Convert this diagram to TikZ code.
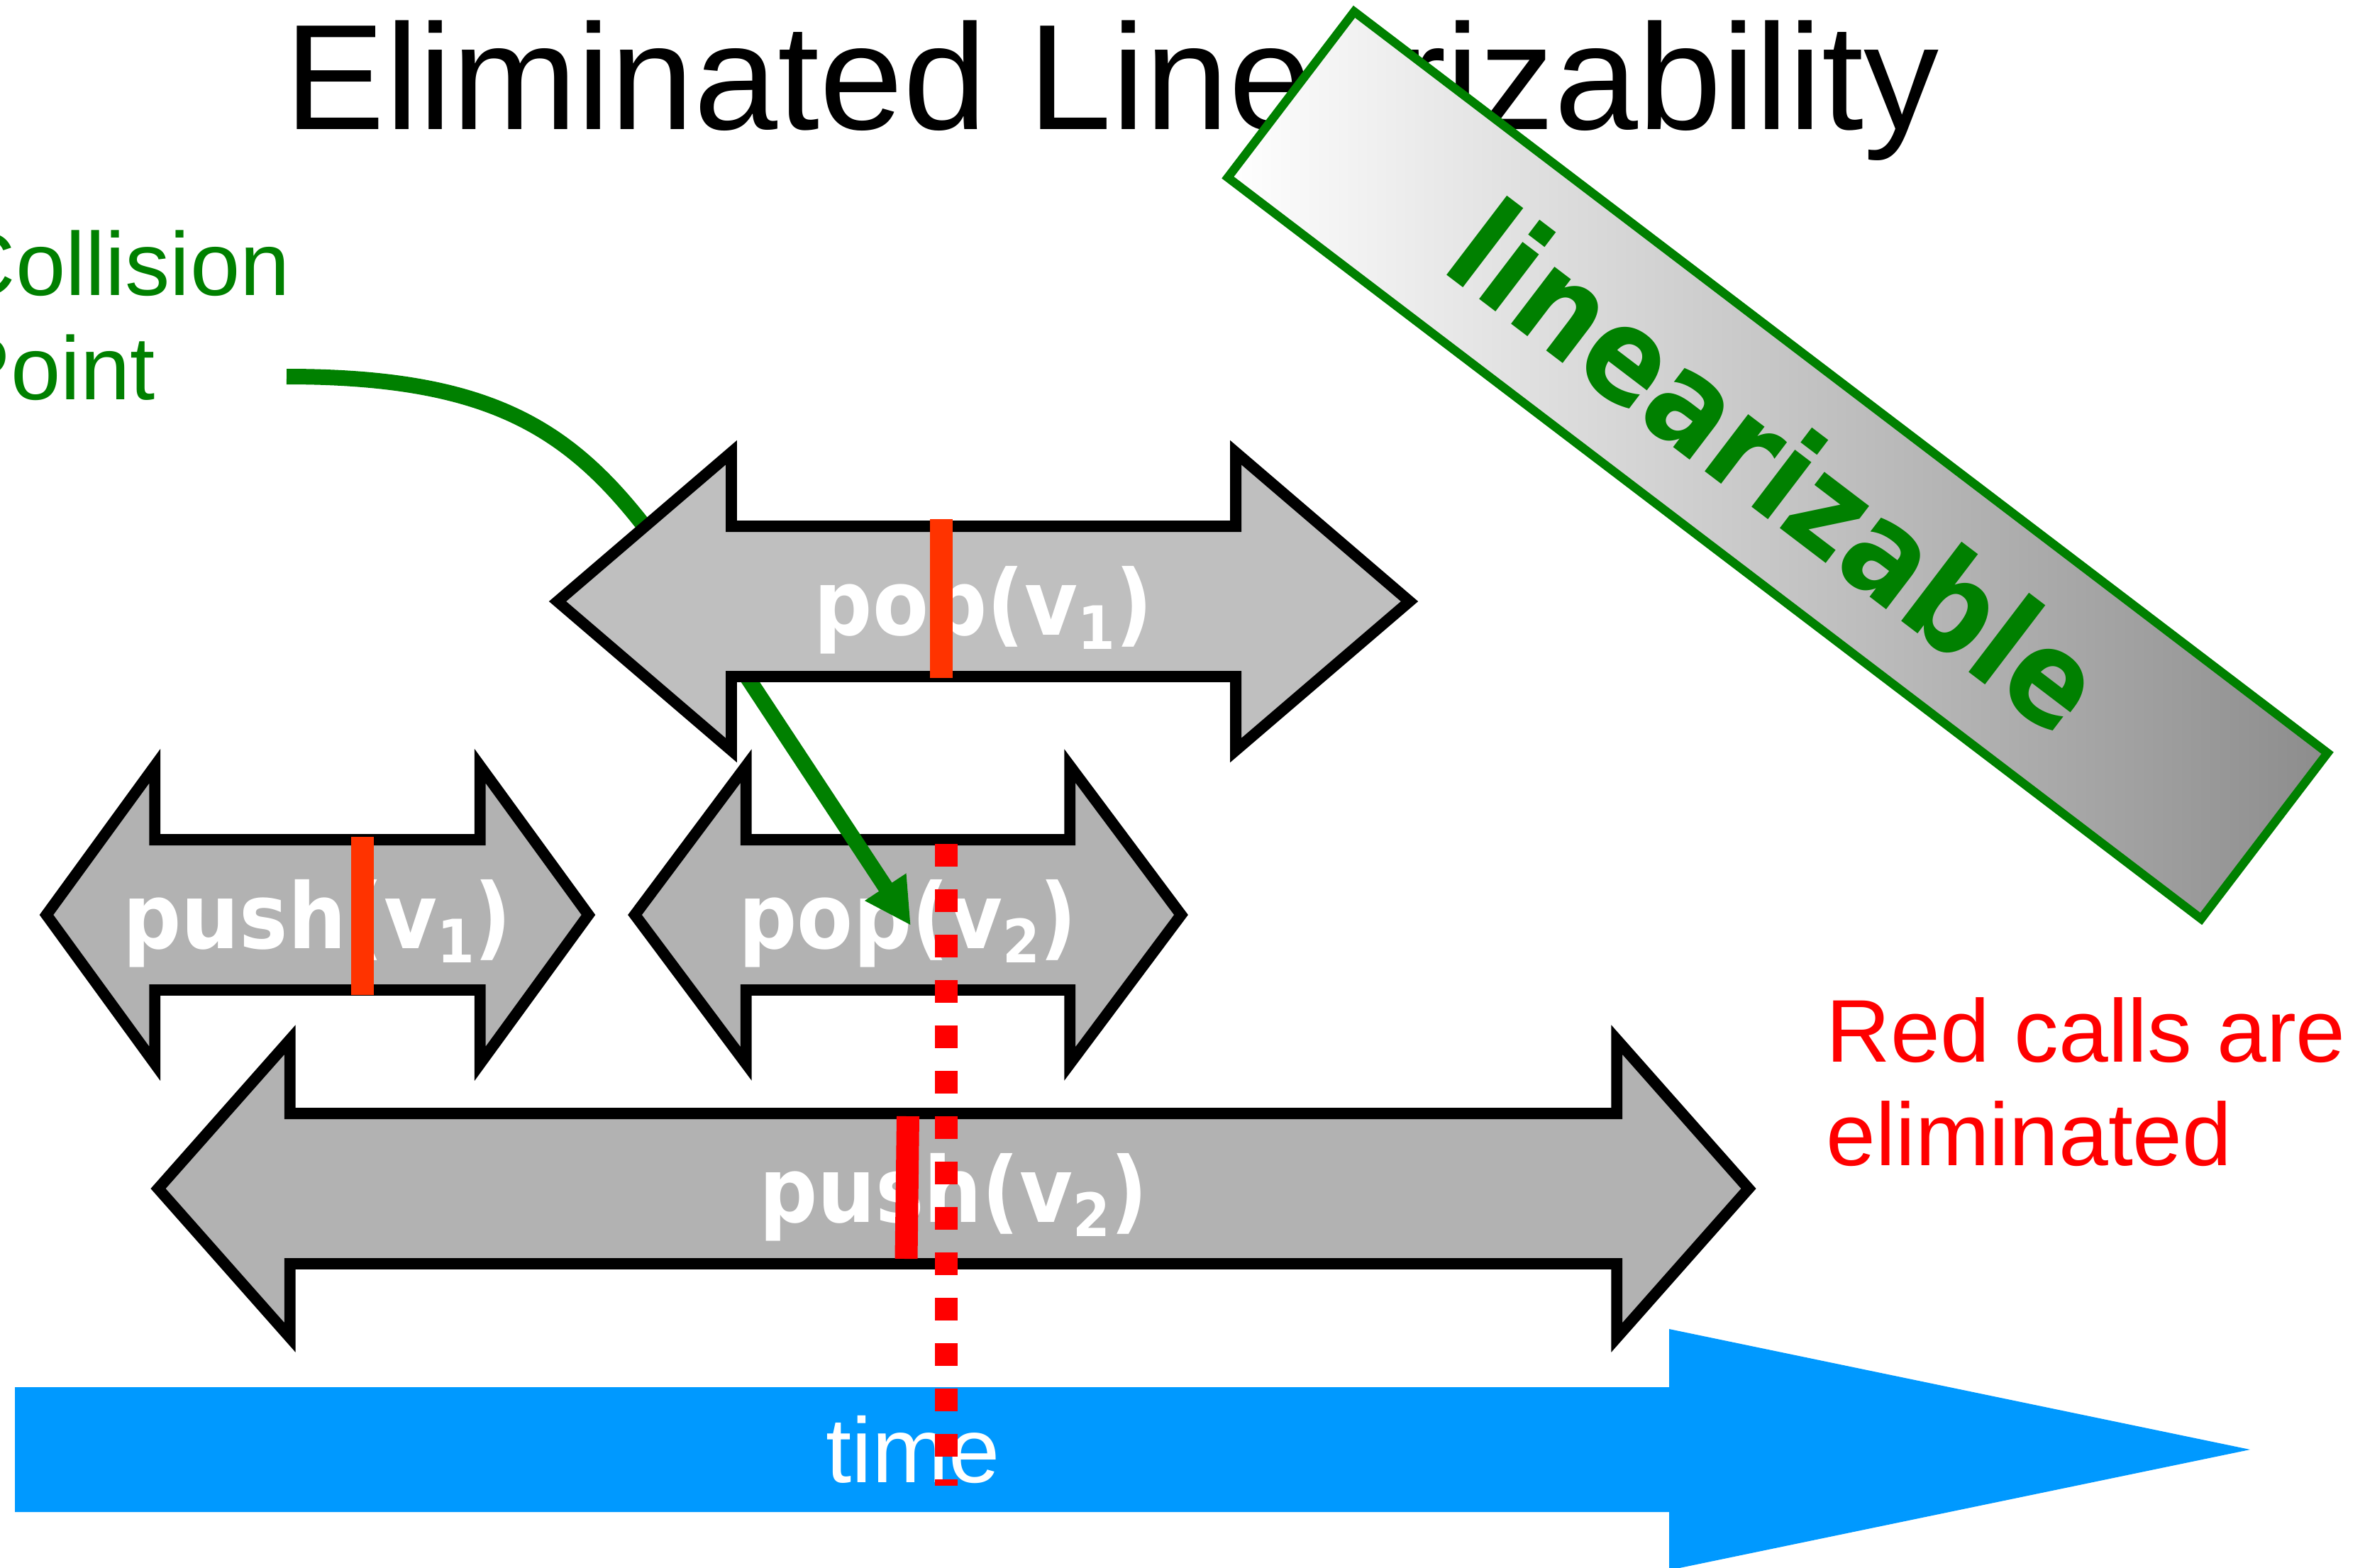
\documentclass[tikz,border=0pt]{standalone}
\usepackage{fontspec}
\setmainfont{Liberation Sans}
\newfontfamily\callfont[FakeStretch=0.9]{DejaVu Sans}
\usetikzlibrary{shapes.arrows,arrows.meta}

\definecolor{callgray}{HTML}{B2B2B2}
\definecolor{popgray}{HTML}{BFBFBF}
\definecolor{barorange}{HTML}{FF3300}
\definecolor{barred}{HTML}{FF0000}
\definecolor{timeblue}{HTML}{0099FF}
\definecolor{lingreen}{HTML}{008000}

\newcommand{\callsub}[1]{\raisebox{-5.7pt}{\fontsize{24}{24}\selectfont #1}}

\begin{document}
\begin{tikzpicture}[
    % Styles
    callarrow/.style={
      double arrow,
      draw=black,
      fill=callgray,
      line width=4.5pt,
      inner xsep=0pt,
      inner ysep=0.98cm,
      double arrow head extend=1.04cm,
      double arrow head indent=0pt,
  },
    calltext/.style={
      anchor=base,
      inner sep=0pt,
      text=white,
      font=\callfont\bfseries\fontsize{36.4}{40}\selectfont,
  },
    linbar/.style={line width=0.32cm, line cap=butt},
    bigtext/.style={inner sep=0pt, align=left, anchor=south west},
  ]
  \useasboundingbox (0,0) rectangle (33.34,-22.10);
  \clip (0,0) rectangle (33.34,-22.10);

  \node[anchor=base, inner sep=0pt, font=\fontsize{60.3}{70}\selectfont] (title) at (15.68,-1.82) {Eliminated Linearizability};
  \node[draw=lingreen, line width=3.5pt, left color=white, right color=black!45,
        rotate=-37.3, minimum width=17.25cm, minimum height=2.94cm, inner sep=0pt,
        text=lingreen, font=\callfont\bfseries\fontsize{52.6}{60}\selectfont] (linear) at (25.06,-6.56) {linearizable};

  \node[bigtext, text=lingreen, font=\fontsize{36}{41.8}\selectfont] (collision) at (-0.70,-5.65) {Collision\\Point};
  \node[bigtext, text=barred, font=\fontsize{35.7}{41.5}\selectfont] (redcalls) at (25.74,-16.45) {Red calls are\\eliminated};
  \coordinate (clstart) at (4.04,-5.31);

  % time axis
  \fill[timeblue] (0.21,-19.56) -- (23.53,-19.56) -- (23.53,-18.74) -- (31.72,-20.44)
    -- (23.53,-22.14) -- (23.53,-21.32) -- (0.21,-21.32) -- cycle;
  \node[anchor=base, inner sep=0pt, text=white, font=\fontsize{37}{40}\selectfont] (time) at (12.87,-20.90) {time};

  % calls
  \node[callarrow, minimum height=22.42cm, double arrow tip angle=97.0] (pushB) at (13.44,-16.76) {};
  \node[calltext] (pushBlabel) at ([yshift=-0.47cm]pushB.center) {push(v\callsub{2})};
  \node[callarrow, minimum height=7.64cm, double arrow tip angle=107.9] (pushA) at (4.475,-12.90) {};
  \node[calltext] (pushAlabel) at ([yshift=-0.47cm]pushA.center) {push(v\callsub{1})};
  \node[callarrow, minimum height=7.70cm, double arrow tip angle=106.5] (popB) at (12.80,-12.90) {};
  \node[calltext] (popBlabel) at ([yshift=-0.47cm]popB.center) {pop(v\callsub{2})};
  \draw[linbar, barorange] ([shift={(0.635,1.10)}]pushA.center) -- ++(0,-2.23);
  \draw[linbar, barred] ([shift={(-0.64,1.02)}]pushB.center) -- ([shift={(-0.665,-0.99)}]pushB.center);

  \draw[lingreen, line width=0.22cm, -{Triangle[length=0.65cm,width=0.65cm]}] (clstart)
    .. controls (8.00,-5.31) and (8.66,-6.70) .. (10.58,-9.62) -- ([shift={(0.04,-0.15)}]popB.center);

  \node[callarrow, fill=popgray, minimum height=12.01cm, double arrow tip angle=81.2] (popA) at (13.865,-8.48) {};
  \node[calltext] (popAlabel) at ([yshift=-0.47cm]popA.center) {pop(v\callsub{1})};
  \draw[linbar, barorange] ([shift={(-0.595,1.16)}]popA.center) -- ++(0,-2.24);

  \draw[linbar, barred, dash pattern=on 0.32cm off 0.32cm] ([shift={(0.54,1.0)}]popB.center) -- ++(0,-9.05);
\end{tikzpicture}
\end{document}
